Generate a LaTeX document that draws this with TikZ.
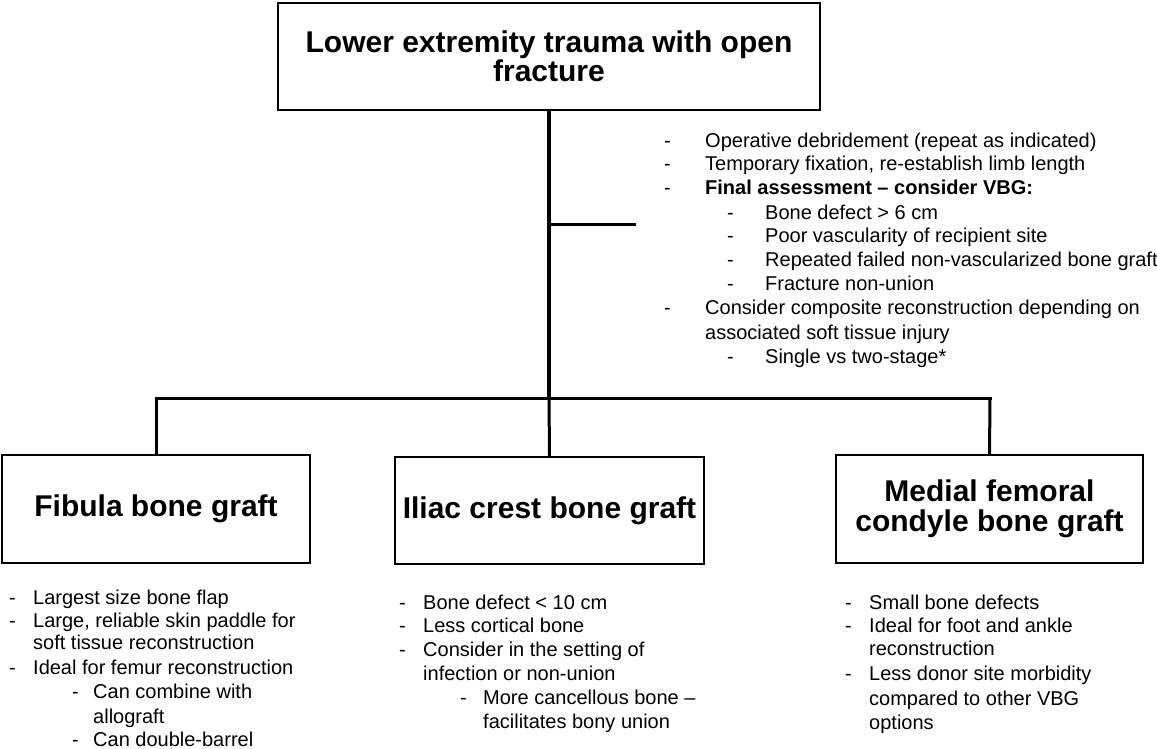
\documentclass[tikz,border=0pt]{standalone}
\usepackage{fontspec}
\setmainfont{Liberation Sans}
\begin{document}
\begin{tikzpicture}[x=1pt,y=-1pt,
  box/.style={draw,line width=1.3pt,inner sep=0pt,align=center,font=\bfseries\fontsize{30}{30}\selectfont},
  txt/.style={anchor=base west,inner sep=0pt,font=\fontsize{20}{22}\selectfont,yshift=-2pt},
  trunk/.style={line width=3.5pt},
  branch/.style={line width=3pt}]
\useasboundingbox (0,0) rectangle (1157,748);
% boxes
\node[box,minimum width=542pt,minimum height=107pt,font=\bfseries\fontsize{30}{29}\selectfont] (top) at (549,56.5) {Lower extremity trauma with open\\fracture};
\node[box,minimum width=308pt,minimum height=108pt] (fib) at (156,509) {\raisebox{-2pt}{Fibula bone graft}};
\node[box,minimum width=309pt,minimum height=107pt] (ili) at (549.5,510.5) {\raisebox{-2pt}{Iliac crest bone graft}};
\node[box,minimum width=307pt,minimum height=108pt] (mfc) at (989.5,509) {Medial femoral\\condyle bone graft};
% connectors
\coordinate (junc) at (549,398);
\coordinate (bra) at (549,224);
\coordinate (braend) at (636,224);
\coordinate (barL) at (156,398);
\coordinate (barR) at (990,398);
\draw[trunk] (top.south) -- (junc);
\draw[branch] (bra) -- (braend);
\draw[branch,line cap=rect] (barL) -- (barR);
\draw[branch] (barL) -- (fib.north);
\draw[branch] (junc) -- (ili.north);
\draw[branch] (barR) -- (mfc.north);
% main list
\node[txt] (d1) at (664,145) {-};
\node[txt] (t1) at (705,145) {Operative debridement (repeat as indicated)};
\node[txt] (d2) at (664,168) {-};
\node[txt] (t2) at (705,168) {Temporary fixation, re-establish limb length};
\node[txt] (d3) at (664,192) {-};
\node[txt] (t3) at (705,192) {\bfseries Final assessment – consider VBG:};
\node[txt] (d4) at (727,217) {-};
\node[txt] (t4) at (765,217) {Bone defect > 6 cm};
\node[txt] (d5) at (727,240) {-};
\node[txt] (t5) at (765,240) {Poor vascularity of recipient site};
\node[txt] (d6) at (727,264) {-};
\node[txt] (t6) at (765,264) {Repeated failed non-vascularized bone graft};
\node[txt] (d7) at (727,288) {-};
\node[txt] (t7) at (765,288) {Fracture non-union};
\node[txt] (d8) at (664,312) {-};
\node[txt] (t8) at (705,312) {Consider composite reconstruction depending on};
\node[txt] (t9) at (705,337) {associated soft tissue injury};
\node[txt] (d10) at (727,361) {-};
\node[txt] (t10) at (765,361) {Single vs two-stage*};
% fibula list
\node[txt] (fd1) at (9,602) {-};
\node[txt] (ft1) at (33,602) {Largest size bone flap};
\node[txt] (fd2) at (9,625) {-};
\node[txt] (ft2) at (33,625) {Large, reliable skin paddle for};
\node[txt] (ft3) at (33,647) {soft tissue reconstruction};
\node[txt] (fd4) at (9,672) {-};
\node[txt] (ft4) at (33,672) {Ideal for femur reconstruction};
\node[txt] (fd5) at (72,696) {-};
\node[txt] (ft5) at (93,696) {Can combine with};
\node[txt] (ft6) at (93,721) {allograft};
\node[txt] (fd7) at (72,744) {-};
\node[txt] (ft7) at (93,744) {Can double-barrel};
% iliac list
\node[txt] (id1) at (399,607) {-};
\node[txt] (it1) at (423,607) {Bone defect < 10 cm};
\node[txt] (id2) at (399,630) {-};
\node[txt] (it2) at (423,630) {Less cortical bone};
\node[txt] (id3) at (399,654) {-};
\node[txt] (it3) at (423,654) {Consider in the setting of};
\node[txt] (it4) at (423,678) {infection or non-union};
\node[txt] (id5) at (460,702) {-};
\node[txt] (it5) at (483,702) {More cancellous bone –};
\node[txt] (it6) at (483,726) {facilitates bony union};
% medial list
\node[txt] (md1) at (845,607) {-};
\node[txt] (mt1) at (869,607) {Small bone defects};
\node[txt] (md2) at (845,630) {-};
\node[txt] (mt2) at (869,630) {Ideal for foot and ankle};
\node[txt] (mt3) at (869,653) {reconstruction};
\node[txt] (md4) at (845,678) {-};
\node[txt] (mt4) at (869,678) {Less donor site morbidity};
\node[txt] (mt5) at (869,703) {compared to other VBG};
\node[txt] (mt6) at (869,727) {options};
\end{tikzpicture}
\end{document}
